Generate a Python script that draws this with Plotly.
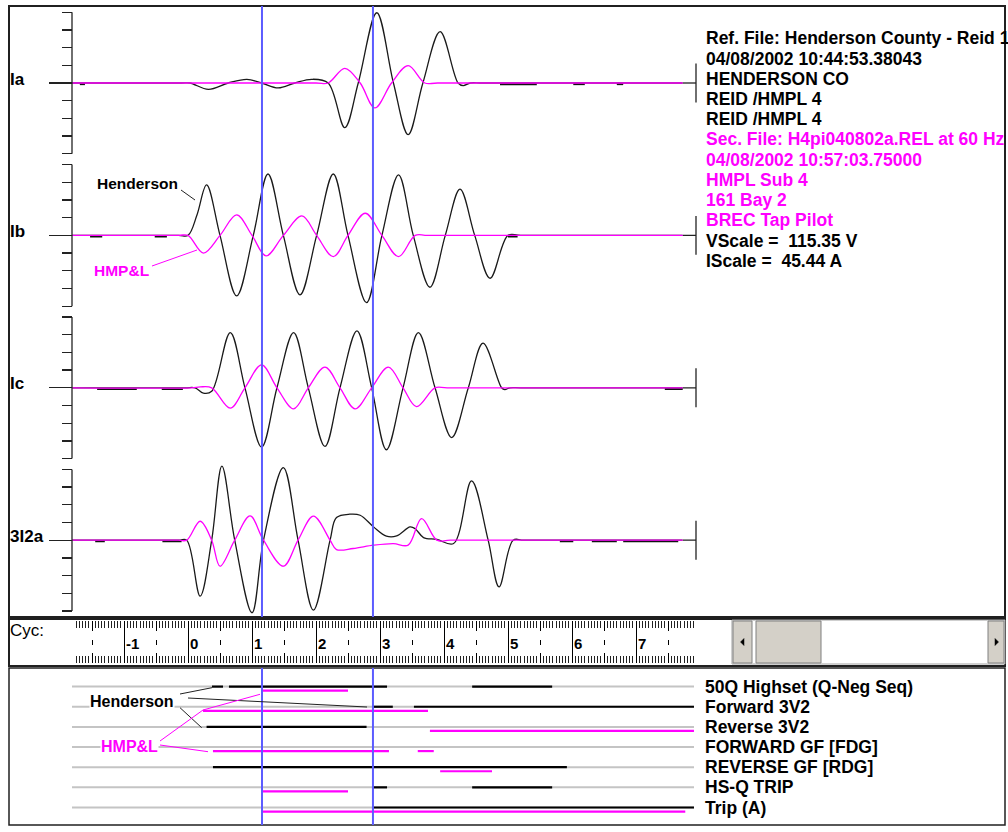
import plotly.graph_objects as go

# ---------------------------------------------------------------- data
channel_names = ["Ia", "Ib", "Ic", "3I2a"]

# x in cycles, y in scale divisions (one division = one axis tick)
ia_ref_x = [-1.81, -0.1, 0.03, 0.32, 0.63, 0.92, 1.15, 1.41, 1.67, 1.93, 2.19, 2.45, 2.66, 2.95, 3.21, 3.44, 3.67, 3.94, 4.22, 4.30, 4.41, 4.6, 7.73]
ia_ref_y = [0, 0, 0, -0.36, 0, 0.21, 0, -0.28, 0, 0.21, 0, -2.52, 0, 3.97, 0, -2.92, 0, 2.90, 0, -0.15, 0, 0, 0]
ia_sec_x = [-1.81, 2.0, 2.19, 2.45, 2.69, 2.92, 3.18, 3.44, 3.70, 3.9, 7.73]
ia_sec_y = [0, 0, 0, 0.83, 0, -1.41, 0, 0.98, 0, 0, 0]
ia_ref_flat_dashes = [(-1.69, -1.61), (4.875, 5.45), (6.02, 6.2), (6.70, 6.80)]

ib_ref_x = [-1.81, -0.15, 0.0, 0.14, 0.29, 0.50, 0.76, 1.02, 1.25, 1.49, 1.75, 2.01, 2.27, 2.50, 2.79, 3.03, 3.29, 3.52, 3.78, 4.02, 4.25, 4.48, 4.72, 5.00, 5.2, 7.73]
ib_ref_y = [0, 0, 0, 1.15, 2.85, 0, -3.42, 0, 3.47, 0, -3.36, 0, 3.47, 0, -3.80, 0, 3.42, 0, -2.93, 0, 2.61, 0, -2.42, 0, 0, 0]
ib_sec_x = [-1.81, -0.15, 0.0, 0.24, 0.50, 0.76, 1.00, 1.22, 1.49, 1.78, 2.01, 2.27, 2.50, 2.77, 3.03, 3.29, 3.55, 3.75, 7.73]
ib_sec_y = [0, 0, 0, -1.0, 0, 1.16, 0, -1.16, 0, 1.10, 0, -1.20, 0, 1.25, 0, -1.20, 0, 0, 0]
ib_ref_flat_dashes = [(-1.53, -1.34), (-0.52, -0.33), (5.0, 5.15)]

ic_ref_x = [-1.81, -0.05, 0.11, 0.24, 0.37, 0.66, 0.89, 1.15, 1.39, 1.65, 1.88, 2.14, 2.375, 2.64, 2.87, 3.10, 3.36, 3.60, 3.86, 4.12, 4.38, 4.61, 4.90, 4.95, 5.03, 5.2, 7.73]
ic_ref_y = [0, 0, 0, -0.3, -0.2, 3.12, 0, -3.35, 0, 3.12, 0, -3.31, 0, 3.22, 0, -3.50, 0, 3.12, 0, -2.81, 0, 2.52, 0, -0.1, 0, 0, 0]
ic_sec_x = [-1.81, 0.05, 0.19, 0.37, 0.66, 0.89, 1.15, 1.39, 1.65, 1.88, 2.14, 2.375, 2.61, 2.87, 3.13, 3.36, 3.57, 3.86, 4.05, 7.73]
ic_sec_y = [0, 0, 0.05, 0, -1.15, 0, 1.30, 0, -1.19, 0, 1.17, 0, -1.19, 0, 1.17, 0, -1.06, 0, 0, 0]
ic_ref_flat_dashes = [(-1.42, -0.80), (-0.41, -0.08), (7.45, 7.73)]

i2_ref_x = [-1.81, -0.15, -0.02, 0.19, 0.37, 0.53, 0.73, 1.00, 1.18, 1.49, 1.72, 1.96, 2.22, 2.32, 2.53, 2.69, 2.90, 3.10, 3.26, 3.47, 3.55, 3.68, 3.89, 4.15, 4.43, 4.69, 4.86, 5.08, 5.25, 7.73]
i2_ref_y = [0, 0, 0, -3.16, 0, 4.18, 0, -4.10, 0, 4.10, 0, -3.95, 0, 1.28, 1.47, 1.41, 0.75, 0.23, 0.24, 0.75, 0.65, 0.15, 0.04, -0.19, 3.35, 0, -2.64, 0, 0, 0]
i2_sec_x = [-1.81, -0.15, -0.02, 0.19, 0.37, 0.50, 0.73, 0.97, 1.18, 1.49, 1.72, 1.96, 2.22, 2.32, 2.58, 2.90, 3.21, 3.44, 3.65, 3.89, 4.1, 7.73]
i2_sec_y = [0, 0, 0, 1.07, 0, -1.47, 0, 1.37, 0, -1.47, 0, 1.36, 0, -0.53, -0.47, -0.28, -0.19, -0.28, 1.22, 0, 0, 0]
i2_ref_flat_dashes = [(-1.45, -1.3), (-0.4, -0.1), (5.81, 6.02), (6.31, 6.70), (6.80, 7.66)]

cursor_cycles = [1.156, 2.89]
ruler_labels = [-1, 0, 1, 2, 3, 4, 5, 6, 7]

info_lines = ["Ref. File: Henderson County - Reid 1", "04/08/2002 10:44:53.38043", "HENDERSON CO",
              "REID /HMPL 4", "REID /HMPL 4", "Sec. File: H4pi040802a.REL at 60 Hz",
              "04/08/2002 10:57:03.75000", "HMPL Sub 4", "161 Bay 2", "BREC Tap Pilot",
              "VScale =  115.35 V", "IScale =  45.44 A"]
info_is_sec = [0, 0, 0, 0, 0, 1, 1, 1, 1, 1, 0, 0]

dig_labels = ["50Q Highset (Q-Neg Seq)", "Forward 3V2", "Reverse 3V2", "FORWARD GF [FDG]",
              "REVERSE GF [RDG]", "HS-Q TRIP", "Trip (A)"]
dig_ref_on = [[(0.375, 0.547), (0.64, 3.11), (4.44, 5.69)],
              [(2.875, 3.2), (3.53, 7.906)],
              [(0.29, 2.79)],
              [],
              [(0.39, 5.92)],
              [(2.89, 3.11), (4.44, 5.69)],
              [(2.89, 7.906)]]
dig_sec_on = [[(1.156, 2.5)],
              [(0.234, 3.75)],
              [(3.78, 7.906)],
              [(0.39, 3.14), (3.59, 3.84)],
              [(3.94, 4.75)],
              [(1.156, 2.5)],
              [(1.156, 7.77)]]

# ---------------------------------------------------------------- geometry
W, H = 1008, 832
def pxx(x):
    return x / W
def pyy(y):
    return 1 - y / H

X0_PX, PPC = 188.0, 64.0
def cyc(px):
    return (px - X0_PX) / PPC

UNIT = 17.7
base_px = [83.0, 235.4, 387.8, 540.2]
HALF = 76.0
R = HALF / UNIT
RULER_L, RULER_R = 72, 696
DIG_ROW0, DIG_STEP = 686.6, 20.15

BLACK = "#000000"
MAG = "#ff00ff"
BLUE = "#5c5cff"
FONT = "Liberation Sans, Arial, sans-serif"

fig = go.Figure()

waves = [(ia_ref_x, ia_ref_y, ia_sec_x, ia_sec_y, ia_ref_flat_dashes),
         (ib_ref_x, ib_ref_y, ib_sec_x, ib_sec_y, ib_ref_flat_dashes),
         (ic_ref_x, ic_ref_y, ic_sec_x, ic_sec_y, ic_ref_flat_dashes),
         (i2_ref_x, i2_ref_y, i2_sec_x, i2_sec_y, i2_ref_flat_dashes)]

layout_axes = {}
for k, (rx, ry, sx, sy, dashes) in enumerate(waves):
    yname = "y" if k == 0 else f"y{k+1}"
    fig.add_trace(go.Scatter(x=rx, y=ry, xaxis="x", yaxis=yname, mode="lines",
                             line=dict(color="#1a1a1a", width=1.3, shape="spline", smoothing=1.0),
                             hoverinfo="skip", showlegend=False))
    dx, dy = [], []
    for a, c in dashes:
        dx += [a, c, None]
        dy += [-0.07, -0.07, None]
    fig.add_trace(go.Scatter(x=dx, y=dy, xaxis="x", yaxis=yname, mode="lines",
                             line=dict(color="#111", width=1.8), hoverinfo="skip", showlegend=False))
    fig.add_trace(go.Scatter(x=sx, y=sy, xaxis="x", yaxis=yname, mode="lines",
                             line=dict(color=MAG, width=1.3, shape="spline", smoothing=1.0),
                             hoverinfo="skip", showlegend=False))
    b = base_px[k]
    layout_axes["yaxis" if k == 0 else f"yaxis{k+1}"] = dict(
        domain=[pyy(b + HALF), pyy(b - HALF)], range=[-R, R], anchor="free",
        position=pxx(RULER_L), showline=False, showgrid=False, zeroline=False,
        showticklabels=False, ticks="outside", tickmode="array", tickvals=[0],
        ticklen=23, tickwidth=1.3, tickcolor="#222",
        minor=dict(ticks="outside", tickmode="array", tickvals=[-4, -3, -2, -1, 1, 2, 3, 4],
                   ticklen=10, tickwidth=1.3, tickcolor="#222"),
        fixedrange=True)

# ---------------------------------------------------------------- digital panel
gray_x, gray_y = [], []
ref_x, ref_y, sec_x, sec_y = [], [], [], []
for i in range(len(dig_labels)):
    gray_x += [cyc(RULER_L), cyc(694), None]
    gray_y += [-i, -i, None]
    for a, c in dig_ref_on[i]:
        ref_x += [a, c, None]
        ref_y += [-i, -i, None]
    for a, c in dig_sec_on[i]:
        sec_x += [a, c, None]
        sec_y += [-i - 0.2, -i - 0.2, None]

fig.add_trace(go.Scatter(x=gray_x, y=gray_y, xaxis="x", yaxis="y6", mode="lines",
                         line=dict(color="#c4c4c4", width=2), hoverinfo="skip", showlegend=False))
fig.add_trace(go.Scatter(x=ref_x, y=ref_y, xaxis="x", yaxis="y6", mode="lines",
                         line=dict(color=BLACK, width=2.2), hoverinfo="skip", showlegend=False))
fig.add_trace(go.Scatter(x=sec_x, y=sec_y, xaxis="x", yaxis="y6", mode="lines",
                         line=dict(color=MAG, width=2.2), hoverinfo="skip", showlegend=False))

# dummy traces so ruler axes are drawn
for xa, ya in [("x2", "y5"), ("x3", "y5"), ("x4", "y5"), ("x5", "y7")]:
    fig.add_trace(go.Scatter(x=[cyc(RULER_L)], y=[0.5], xaxis=xa, yaxis=ya, mode="markers",
                             marker=dict(opacity=0), hoverinfo="skip", showlegend=False))

ruler_common = dict(domain=[pxx(RULER_L), pxx(RULER_R)], range=[cyc(RULER_L), cyc(RULER_R)],
                    showticklabels=False, zeroline=False, showline=False, fixedrange=True)
tick_rows = dict(showgrid=False, ticks="inside", tickmode="linear", tick0=0, dtick=0.5, ticklen=10,
                 tickcolor=BLACK, tickwidth=1,
                 minor=dict(ticks="inside", tickmode="linear", tick0=0, dtick=0.05, ticklen=7,
                            tickcolor="#222", tickwidth=1))
layout_axes.update(
    xaxis=dict(domain=[0, 1], range=[cyc(0), cyc(W)], visible=False, anchor="y", fixedrange=True),
    xaxis2=dict(**ruler_common, anchor="y5", side="top", **tick_rows),
    xaxis3=dict(**ruler_common, anchor="y5", side="bottom", overlaying="x2", **tick_rows),
    xaxis4=dict(**ruler_common, anchor="y5", overlaying="x2", showgrid=True, gridcolor=BLACK,
                gridwidth=1, tickmode="linear", tick0=0, dtick=1, ticks=""),
    xaxis5=dict(**ruler_common, anchor="y7", side="bottom", showgrid=False, ticks="inside",
                tickmode="linear", tick0=0.5, dtick=1, ticklen=5, tickcolor=BLACK, tickwidth=1),
    yaxis5=dict(domain=[pyy(663), pyy(621)], range=[0, 1], visible=False, anchor="x2", fixedrange=True),
    yaxis7=dict(domain=[pyy(645), pyy(639)], range=[0, 1], visible=False, anchor="x5", fixedrange=True),
    yaxis6=dict(domain=[pyy(825), pyy(668)],
                range=[(DIG_ROW0 - 825) / DIG_STEP, (DIG_ROW0 - 668) / DIG_STEP],
                visible=False, anchor="x", fixedrange=True),
)

# ---------------------------------------------------------------- shapes
shapes = []
def rect(x0, y0, x1, y1, color="#202020", width=1.5, fill=None):
    d = dict(type="rect", xref="paper", yref="paper", x0=pxx(x0), x1=pxx(x1), y0=pyy(y1), y1=pyy(y0),
             line=dict(color=color, width=width), layer="below")
    if fill:
        d["fillcolor"] = fill
    shapes.append(d)

def pline(x0, y0, x1, y1, color, width=1.0, layer="above"):
    shapes.append(dict(type="line", xref="paper", yref="paper", x0=pxx(x0), x1=pxx(x1),
                       y0=pyy(y0), y1=pyy(y1), line=dict(color=color, width=width), layer=layer))

rect(9, 6, 1005, 617, width=2)
rect(9, 619, 1005, 666, width=2)
rect(9, 668, 1005, 825, width=1.5)

# channel axis lines and right brackets
for k in range(4):
    yref = "y" if k == 0 else f"y{k+1}"
    shapes.append(dict(type="line", xref="x", yref=yref, x0=cyc(RULER_L), x1=cyc(RULER_L), y0=-4, y1=4,
                       line=dict(color="#222", width=1.3)))
    shapes.append(dict(type="line", xref="x", yref=yref, x0=cyc(RULER_R), x1=cyc(RULER_R), y0=-1.1, y1=1.1,
                       line=dict(color="#222", width=1.3)))
    shapes.append(dict(type="line", xref="x", yref=yref, x0=cyc(683), x1=cyc(RULER_R), y0=0, y1=0,
                       line=dict(color="#222", width=1.3)))

# cursors
for c in cursor_cycles:
    for (ya, yb) in [(6, 617), (668, 825)]:
        shapes.append(dict(type="line", xref="x", yref="paper", x0=c, x1=c, y0=pyy(yb), y1=pyy(ya),
                           line=dict(color=BLUE, width=2), layer="above"))

# scrollbar
rect(732, 620, 1005, 664, color="#a0a0a0", width=1, fill="#ffffff")
rect(733, 621, 752, 663, color="#808080", width=1, fill="#d4d0c8")
rect(756, 621, 821, 663, color="#808080", width=1, fill="#d4d0c8")
rect(988, 621, 1004, 663, color="#808080", width=1, fill="#d4d0c8")
shapes.append(dict(type="path", xref="paper", yref="paper",
                   path=f"M {pxx(744)} {pyy(638.5)} L {pxx(740.5)} {pyy(642)} L {pxx(744)} {pyy(645.5)} Z",
                   fillcolor=BLACK, line=dict(color=BLACK, width=0.5)))
shapes.append(dict(type="path", xref="paper", yref="paper",
                   path=f"M {pxx(995)} {pyy(638.5)} L {pxx(998.5)} {pyy(642)} L {pxx(995)} {pyy(645.5)} Z",
                   fillcolor=BLACK, line=dict(color=BLACK, width=0.5)))

# leader lines
pline(181, 190, 195, 200, "#222")
pline(152, 266, 197, 250, MAG)
pline(180, 694, 212, 687.7, "#222")
pline(188, 698, 367, 707, "#222")
pline(180, 707.7, 201.7, 727.7, "#222")
pline(160, 741, 203, 710, MAG)
pline(203, 710, 260, 694.3, MAG)
pline(160, 745, 208, 751.7, MAG)

# ---------------------------------------------------------------- annotations
ann = []
def text(x, y, s, color=BLACK, size=16, bold=True, bg=None, xanchor="left"):
    d = dict(xref="paper", yref="paper", x=pxx(x), y=pyy(y), text=(f"<b>{s}</b>" if bold else s),
             showarrow=False, xanchor=xanchor, yanchor="middle",
             font=dict(family=FONT, size=size, color=color))
    if bg:
        d["bgcolor"] = bg
        d["borderpad"] = 0
    ann.append(d)

for k, name in enumerate(channel_names):
    text(8, base_px[k] - 4, name, size=17)

for i, s in enumerate(info_lines):
    text(704, 38.5 + 20.2 * i, s, color=MAG if info_is_sec[i] else BLACK, size=17.5)

for i, s in enumerate(dig_labels):
    text(703, DIG_ROW0 + DIG_STEP * i, s, size=17.5)

text(95, 183, "Henderson", size=15.5)
text(92, 270, "HMP&L", color=MAG, size=15.5)
text(89, 701, "Henderson", size=16, bg="white")
text(100, 746, "HMP&L", color=MAG, size=16, bg="white")
text(8, 630, "Cyc:", size=17, bold=False)

for n in ruler_labels:
    ann.append(dict(xref="x2", yref="paper", x=n, y=pyy(643), text=f"<b>{n}</b>", showarrow=False,
                    xanchor="left", yanchor="middle", xshift=0,
                    font=dict(family=FONT, size=15, color=BLACK)))

fig.update_layout(width=W, height=H, margin=dict(l=0, r=0, t=0, b=0), paper_bgcolor="white",
                  plot_bgcolor="rgba(0,0,0,0)", showlegend=False, shapes=shapes, annotations=ann,
                  **layout_axes)

fig.write_html("out.html", config=dict(displayModeBar=False, staticPlot=True),
               post_script="document.body.style.margin='0';document.body.style.overflow='hidden';")
